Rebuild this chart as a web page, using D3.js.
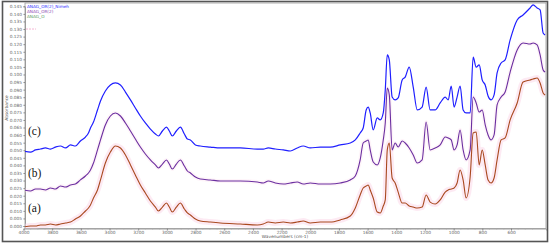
<!DOCTYPE html>
<html><head><meta charset="utf-8">
<script src="https://cdn.jsdelivr.net/npm/d3@7"></script>
<style>html,body{margin:0;padding:0;background:#fff;}svg{display:block;}</style>
</head><body>
<script>
// Wavenumbers (cm-1)
const wavenumbers = [4000,3951,3916,3882,3847,3812,3777,3742,3707,3672,3638,3603,3568,3547,3533,3512,3484,3463,3429,3394,3359,3324,3289,3254,3220,3185,3150,3115,3080,3059,3031,3003,2983,2962,2934,2906,2878,2857,2836,2801,2767,2697,2627,2488,2369,2328,2293,2244,2188,2139,2091,2049,2000,1930,1861,1791,1721,1686,1652,1631,1610,1596,1582,1561,1533,1512,1491,1477,1463,1449,1429,1408,1387,1359,1338,1310,1282,1254,1220,1192,1164,1129,1094,1059,1038,1017,997,976,955,934,913,885,864,843,822,801,780,760,739,718,697,669,641,606,557,516,467,446,418,397,376,362];
// (c) ANAG_OR(2)
const absC = [0.0495,0.0488,0.0502,0.0508,0.0515,0.0508,0.0521,0.0528,0.0515,0.0535,0.0528,0.0561,0.0587,0.0614,0.0647,0.0686,0.0766,0.0825,0.0891,0.0931,0.0944,0.0931,0.0884,0.0832,0.0779,0.0726,0.0680,0.0640,0.0607,0.0594,0.0627,0.0653,0.0627,0.0594,0.0627,0.0653,0.0607,0.0574,0.0568,0.0535,0.0528,0.0521,0.0515,0.0515,0.0508,0.0508,0.0515,0.0508,0.0502,0.0495,0.0515,0.0528,0.0515,0.0521,0.0521,0.0535,0.0548,0.0568,0.0614,0.0647,0.0766,0.0785,0.0746,0.0634,0.0713,0.0700,0.0746,0.0898,0.1129,0.1096,0.0851,0.0832,0.0845,0.0964,0.0983,0.1049,0.0917,0.0766,0.0785,0.0917,0.0766,0.0766,0.0812,0.0851,0.0832,0.0924,0.0785,0.0851,0.0924,0.0766,0.0746,0.0746,0.1115,0.1049,0.1063,0.0964,0.0931,0.0858,0.0832,0.0865,0.1010,0.1076,0.1096,0.1228,0.1360,0.1393,0.1439,0.1459,0.1439,0.1426,0.1274,0.1261];
// (b)
const absB = [0.0238,0.0231,0.0244,0.0244,0.0238,0.0251,0.0244,0.0264,0.0257,0.0271,0.0277,0.0304,0.0330,0.0350,0.0370,0.0416,0.0502,0.0568,0.0667,0.0726,0.0746,0.0726,0.0680,0.0627,0.0574,0.0521,0.0475,0.0436,0.0403,0.0383,0.0409,0.0436,0.0409,0.0376,0.0409,0.0436,0.0396,0.0363,0.0350,0.0323,0.0310,0.0304,0.0297,0.0297,0.0290,0.0284,0.0297,0.0284,0.0277,0.0284,0.0290,0.0277,0.0284,0.0277,0.0277,0.0284,0.0304,0.0330,0.0436,0.0548,0.0561,0.0568,0.0502,0.0422,0.0403,0.0449,0.0568,0.0680,0.0911,0.0865,0.0502,0.0548,0.0521,0.0561,0.0548,0.0515,0.0469,0.0416,0.0436,0.0686,0.0502,0.0515,0.0535,0.0587,0.0581,0.0568,0.0502,0.0535,0.0634,0.0502,0.0436,0.0502,0.0851,0.0812,0.0752,0.0766,0.0667,0.0601,0.0568,0.0601,0.0799,0.0851,0.0884,0.1016,0.1162,0.1208,0.1201,0.1208,0.1195,0.1129,0.1030,0.1016];
// (a)
const absA = [-0.0007,0.0000,0.0000,0.0007,0.0007,0.0013,0.0007,0.0013,0.0020,0.0026,0.0046,0.0066,0.0099,0.0119,0.0139,0.0185,0.0238,0.0304,0.0416,0.0488,0.0528,0.0515,0.0469,0.0403,0.0337,0.0271,0.0218,0.0165,0.0125,0.0099,0.0125,0.0152,0.0125,0.0092,0.0125,0.0152,0.0112,0.0086,0.0073,0.0046,0.0033,0.0026,0.0020,0.0013,0.0007,0.0013,0.0026,0.0020,0.0026,0.0020,0.0026,0.0033,0.0020,0.0026,0.0026,0.0040,0.0066,0.0119,0.0205,0.0251,0.0264,0.0271,0.0238,0.0185,0.0092,0.0086,0.0132,0.0172,0.0502,0.0548,0.0317,0.0284,0.0224,0.0152,0.0152,0.0132,0.0125,0.0119,0.0125,0.0205,0.0158,0.0145,0.0172,0.0224,0.0238,0.0244,0.0251,0.0284,0.0370,0.0304,0.0185,0.0323,0.0614,0.0620,0.0403,0.0502,0.0403,0.0304,0.0284,0.0317,0.0436,0.0568,0.0581,0.0700,0.0812,0.0950,0.0964,0.0970,0.0977,0.0944,0.0878,0.0865];

const xTicks = [4000,3800,3600,3400,3200,3000,2800,2600,2400,2200,2000,1800,1600,1400,1200,1000,800,600];
const yTicks = d3.range(0, 30).map(i => +(i*0.005).toFixed(3));
const legendNames = ["ANAG_OR(2)_Nimeh","ANAG_OR(2)","ANAG_O"];
const seriesLabels = ["(a)","(b)","(c)"];

const W = 550, H = 244;
const svg = d3.select("body").append("svg").attr("width", W).attr("height", H);

const x = d3.scaleLinear().domain([4000, 356]).range([23.5, 546]);
const y = d3.scaleLinear().domain([0, 0.145]).range([226, 6.3]);

// outer frame
svg.append("rect").attr("x",2.5).attr("y",1.5).attr("width",545).attr("height",240)
  .attr("fill","#fff").attr("stroke","#555").attr("stroke-width",1.6);
// plot box
svg.append("rect").attr("x",25).attr("y",3).attr("width",521).attr("height",225.5)
  .attr("fill","none").attr("stroke","#9a9a9a").attr("stroke-width",0.8);

svg.append("clipPath").attr("id","clip").append("rect")
  .attr("x",25).attr("y",3).attr("width",521).attr("height",225.5);

// axes
const xAxis = d3.axisBottom(x).tickValues(xTicks).tickSize(2).tickFormat(d3.format("d"));
const gx = svg.append("g").attr("transform","translate(0,228.5)").call(xAxis);
gx.select(".domain").attr("stroke","#9a9a9a");
gx.selectAll(".tick line").attr("stroke","#888");
gx.selectAll("text").attr("font-family","DejaVu Sans").attr("font-size",4.3).attr("fill","#666").attr("dy","0.2em");
// minor x ticks
const minor = d3.range(4000, 356, -50).filter(v => v % 200 !== 0);
svg.append("g").selectAll("line").data(minor).join("line")
  .attr("x1",d=>x(d)).attr("x2",d=>x(d)).attr("y1",228.5).attr("y2",229.7).attr("stroke","#aaa").attr("stroke-width",0.5);

const yAxis = d3.axisLeft(y).tickValues(yTicks).tickSize(1.5).tickFormat(d3.format(".3f"));
const gy = svg.append("g").attr("transform","translate(25,0)").call(yAxis);
gy.select(".domain").attr("stroke","#9a9a9a");
gy.selectAll(".tick line").attr("stroke","#888");
gy.selectAll("text").attr("font-family","DejaVu Sans").attr("font-size",4.3).attr("fill","#666").attr("x",-3);

svg.append("text").attr("x",285).attr("y",238).attr("text-anchor","middle")
  .attr("font-family","DejaVu Sans").attr("font-size",4.3).attr("fill","#555").text("Wavenumbers (cm-1)");
svg.append("text").attr("transform","translate(8,108) rotate(-90)").attr("text-anchor","middle")
  .attr("font-family","DejaVu Sans").attr("font-size",4.3).attr("fill","#555").text("Absorbance");

// legend
const legendColors = ["#2b2bff","#8a3fb0","#5a9a5a"];
legendNames.forEach((n,i)=>{
  svg.append("text").attr("x",27).attr("y",8+i*4.8).attr("font-family","DejaVu Sans")
    .attr("font-size",4.2).attr("fill",legendColors[i]).text(n);
});
svg.append("line").attr("x1",26).attr("x2",36).attr("y1",y(0.13)).attr("y2",y(0.13))
  .attr("stroke","#f2a3c8").attr("stroke-width",0.8).attr("stroke-dasharray","2,1");

const line = d3.line().x((d,i)=>x(wavenumbers[i])).y(d=>y(d)).curve(d3.curveMonotoneX);
const plot = svg.append("g").attr("clip-path","url(#clip)");

// pale pink halo behind spectra
plot.append("path").datum(absA).attr("d",line).attr("fill","none")
  .attr("stroke","#fbd6e8").attr("stroke-width",6).attr("stroke-opacity",0.5);
plot.append("path").datum(absB).attr("d",line).attr("fill","none")
  .attr("stroke","#fbe0ee").attr("stroke-width",4).attr("stroke-opacity",0.35);

const series = [
  {v: absA, c: "#a9491f", w: 1.1},
  {v: absB, c: "#6b2fa0", w: 1.1},
  {v: absC, c: "#1f1fff", w: 1.2}
];
series.forEach(s=>{
  plot.append("path").datum(s.v).attr("d",line).attr("fill","none")
    .attr("stroke",s.c).attr("stroke-width",s.w).attr("stroke-linejoin","round");
});

// series labels
const labelY = [212, 177, 135];
seriesLabels.forEach((t,i)=>{
  svg.append("text").attr("x",28).attr("y",labelY[i]).attr("font-family","Liberation Serif")
    .attr("font-size",11.5).attr("fill","#111").text(t);
});
</script>
</body></html>
